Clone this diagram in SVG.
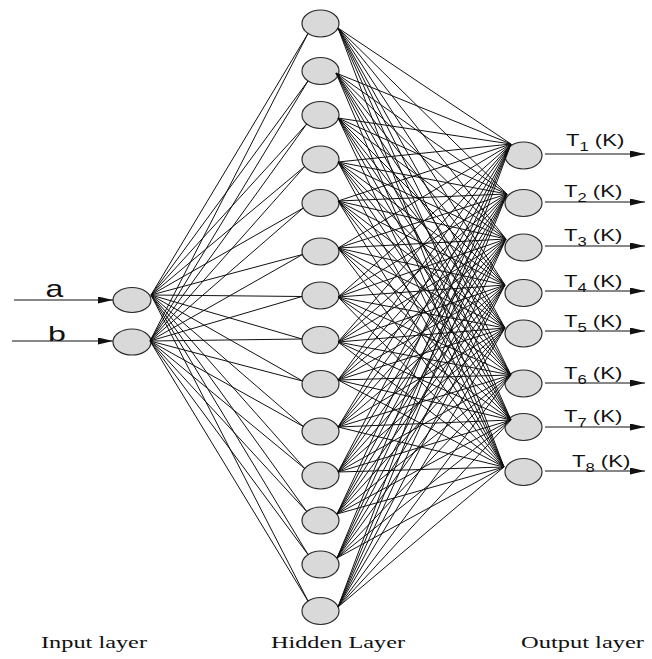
<svg xmlns="http://www.w3.org/2000/svg" width="652" height="659" viewBox="0 0 652 659">
  <style>
    .node { fill: #d9d9d9; stroke: #2a2a2a; stroke-width: 1.2; }
    .edge { fill: none; stroke: #111; stroke-width: 1; }
    .io { fill: none; stroke: #111; stroke-width: 1.1; }
    .sans { font-family: "Liberation Sans", Arial, sans-serif; fill: #111; }
    .serif { font-family: "Liberation Serif", "Times New Roman", serif; font-size: 17.5px; fill: #111; }
    .lbl { font-size: 16px; }
    .sub { font-size: 12px; }
  </style>
  <defs>
    <marker id="arrow" markerUnits="userSpaceOnUse" markerWidth="16" markerHeight="8" refX="15" refY="3.5" orient="auto">
      <path d="M0,0 L15,3.5 L0,7 Z" fill="#111"/>
    </marker>
  </defs>
  <rect width="652" height="659" fill="#fff"/>

  <!-- input layer -->
  <g id="in-a"><ellipse class="node" cx="132" cy="300" rx="19" ry="12.5"/></g>
  <g id="in-b"><ellipse class="node" cx="132" cy="342" rx="19" ry="13"/></g>

  <!-- hidden layer -->
  <g id="h1"><ellipse class="node" cx="320.5" cy="23.5" rx="18.5" ry="13.5"/></g>
  <g id="h2"><ellipse class="node" cx="320.5" cy="71" rx="18.5" ry="13.5"/></g>
  <g id="h3"><ellipse class="node" cx="320.5" cy="115" rx="18.5" ry="13.5"/></g>
  <g id="h4"><ellipse class="node" cx="320.5" cy="159.5" rx="18.5" ry="13.5"/></g>
  <g id="h5"><ellipse class="node" cx="320.5" cy="203" rx="18.5" ry="13.5"/></g>
  <g id="h6"><ellipse class="node" cx="320.5" cy="251.5" rx="18.5" ry="13.5"/></g>
  <g id="h7"><ellipse class="node" cx="320.5" cy="295.5" rx="18.5" ry="13.5"/></g>
  <g id="h8"><ellipse class="node" cx="320.5" cy="340" rx="18.5" ry="13.5"/></g>
  <g id="h9"><ellipse class="node" cx="320.5" cy="384" rx="18.5" ry="13.5"/></g>
  <g id="h10"><ellipse class="node" cx="320.5" cy="431.5" rx="18.5" ry="13.5"/></g>
  <g id="h11"><ellipse class="node" cx="320.5" cy="475.5" rx="18.5" ry="13.5"/></g>
  <g id="h12"><ellipse class="node" cx="320.5" cy="520.5" rx="18.5" ry="13.5"/></g>
  <g id="h13"><ellipse class="node" cx="320.5" cy="564.5" rx="18.5" ry="13.5"/></g>
  <g id="h14"><ellipse class="node" cx="320.5" cy="611" rx="18.5" ry="13.5"/></g>

  <!-- output layer -->
  <g id="o1"><ellipse class="node" cx="523.5" cy="155.5" rx="18.5" ry="13.5"/></g>
  <g id="o2"><ellipse class="node" cx="523.5" cy="203" rx="18.5" ry="13.5"/></g>
  <g id="o3"><ellipse class="node" cx="523.5" cy="247.5" rx="18.5" ry="13.5"/></g>
  <g id="o4"><ellipse class="node" cx="523.5" cy="293" rx="18.5" ry="13.5"/></g>
  <g id="o5"><ellipse class="node" cx="523.5" cy="333.5" rx="18.5" ry="13.5"/></g>
  <g id="o6"><ellipse class="node" cx="523.5" cy="383.5" rx="18.5" ry="13.5"/></g>
  <g id="o7"><ellipse class="node" cx="523.5" cy="427" rx="18.5" ry="13.5"/></g>
  <g id="o8"><ellipse class="node" cx="523.5" cy="472" rx="18.5" ry="13.5"/></g>

  <!-- connectors -->
  <g id="connectors">
    <!-- input to hidden -->
    <path id="e-a" class="edge" d="M151,295 L308,33.5 M151,295 L308,81 M151,295 L306.7,124 M151,295 L304.7,166.5 M151,295 L303.3,208 M151,295 L302.5,254.5 M151,295 L302.1,296.5 M151,295 L302.1,339 M151,295 L302.5,381 M151,295 L303.3,426.5 M151,295 L304.7,468.5 M151,295 L306.7,511.5 M151,295 L308,554.5 M151,295 L308,601"/>
    <path id="e-b" class="edge" d="M150,341 L308,33.5 M150,341 L308,81 M150,341 L306.7,124 M150,341 L304.7,166.5 M150,341 L303.3,208 M150,341 L302.5,254.5 M150,341 L302.1,296.5 M150,341 L302.1,339 M150,341 L302.5,381 M150,341 L303.3,426.5 M150,341 L304.7,468.5 M150,341 L306.7,511.5 M150,341 L308,554.5 M150,341 L308,601"/>
    <!-- hidden to output -->
    <path id="e-h1" class="edge" d="M338,28 L511,144 M338,28 L507,194 M338,28 L506,239 M338,28 L505,285 M338,28 L505,328 M338,28 L511,375 M338,28 L511,420 M338,28 L504,467"/>
    <path id="e-h2" class="edge" d="M336,73 L511,144 M336,73 L507,194 M336,73 L506,239 M336,73 L505,285 M336,73 L505,328 M336,73 L511,375 M336,73 L511,420 M336,73 L504,467"/>
    <path id="e-h3" class="edge" d="M338,118 L511,144 M338,118 L507,194 M338,118 L506,239 M338,118 L505,285 M338,118 L505,328 M338,118 L511,375 M338,118 L511,420 M338,118 L504,467"/>
    <path id="e-h4" class="edge" d="M338,162 L511,144 M338,162 L507,194 M338,162 L506,239 M338,162 L505,285 M338,162 L505,328 M338,162 L511,375 M338,162 L511,420 M338,162 L504,467"/>
    <path id="e-h5" class="edge" d="M338,201 L511,144 M338,201 L507,194 M338,201 L506,239 M338,201 L505,285 M338,201 L505,328 M338,201 L511,375 M338,201 L511,420 M338,201 L504,467"/>
    <path id="e-h6" class="edge" d="M338,248 L511,144 M338,248 L507,194 M338,248 L506,239 M338,248 L505,285 M338,248 L505,328 M338,248 L511,375 M338,248 L511,420 M338,248 L504,467"/>
    <path id="e-h7" class="edge" d="M338,297 L511,144 M338,297 L507,194 M338,297 L506,239 M338,297 L505,285 M338,297 L505,328 M338,297 L511,375 M338,297 L511,420 M338,297 L504,467"/>
    <path id="e-h8" class="edge" d="M338,342 L511,144 M338,342 L507,194 M338,342 L506,239 M338,342 L505,285 M338,342 L505,328 M338,342 L511,375 M338,342 L511,420 M338,342 L504,467"/>
    <path id="e-h9" class="edge" d="M338,380 L511,144 M338,380 L507,194 M338,380 L506,239 M338,380 L505,285 M338,380 L505,328 M338,380 L511,375 M338,380 L511,420 M338,380 L504,467"/>
    <path id="e-h10" class="edge" d="M338,427 L511,144 M338,427 L507,194 M338,427 L506,239 M338,427 L505,285 M338,427 L505,328 M338,427 L511,375 M338,427 L511,420 M338,427 L504,467"/>
    <path id="e-h11" class="edge" d="M338,472 L511,144 M338,472 L507,194 M338,472 L506,239 M338,472 L505,285 M338,472 L505,328 M338,472 L511,375 M338,472 L511,420 M338,472 L504,467"/>
    <path id="e-h12" class="edge" d="M337,514 L511,144 M337,514 L507,194 M337,514 L506,239 M337,514 L505,285 M337,514 L505,328 M337,514 L511,375 M337,514 L511,420 M337,514 L504,467"/>
    <path id="e-h13" class="edge" d="M337,558 L511,144 M337,558 L507,194 M337,558 L506,239 M337,558 L505,285 M337,558 L505,328 M337,558 L511,375 M337,558 L511,420 M337,558 L504,467"/>
    <path id="e-h14" class="edge" d="M338,607 L511,144 M338,607 L507,194 M338,607 L506,239 M338,607 L505,285 M338,607 L505,328 M338,607 L511,375 M338,607 L511,420 M338,607 L504,467"/>

    <!-- input arrows -->
    <line class="io" x1="14" y1="300" x2="113" y2="300" marker-end="url(#arrow)"/>
    <line class="io" x1="12" y1="341" x2="113" y2="341" marker-end="url(#arrow)"/>
    <!-- output arrows -->
    <line class="io" x1="545" y1="154" x2="645" y2="154" marker-end="url(#arrow)"/>
    <line class="io" x1="545" y1="202" x2="645" y2="202" marker-end="url(#arrow)"/>
    <line class="io" x1="545" y1="246" x2="645" y2="246" marker-end="url(#arrow)"/>
    <line class="io" x1="545" y1="291" x2="645" y2="291" marker-end="url(#arrow)"/>
    <line class="io" x1="545" y1="331" x2="645" y2="331" marker-end="url(#arrow)"/>
    <line class="io" x1="545" y1="383" x2="645" y2="383" marker-end="url(#arrow)"/>
    <line class="io" x1="545" y1="427" x2="645" y2="427" marker-end="url(#arrow)"/>
    <line class="io" x1="545" y1="471" x2="645" y2="471" marker-end="url(#arrow)"/>
  </g>

  <!-- input labels -->
  <text class="sans" font-size="24" transform="translate(45.5,297) scale(1.33,1)">a</text>
  <text class="sans" font-size="19.5" transform="translate(48,341) scale(1.65,1)">b</text>

  <!-- output labels -->
  <g class="sans lbl">
    <text transform="translate(566,146) scale(1.38,1)">T<tspan class="sub" dy="4.5">1</tspan><tspan dy="-4.5"> (K)</tspan></text>
    <text transform="translate(564,197) scale(1.38,1)">T<tspan class="sub" dy="4.5">2</tspan><tspan dy="-4.5"> (K)</tspan></text>
    <text transform="translate(564,241) scale(1.38,1)">T<tspan class="sub" dy="4.5">3</tspan><tspan dy="-4.5"> (K)</tspan></text>
    <text transform="translate(564,287) scale(1.38,1)">T<tspan class="sub" dy="4.5">4</tspan><tspan dy="-4.5"> (K)</tspan></text>
    <text transform="translate(564,327) scale(1.38,1)">T<tspan class="sub" dy="4.5">5</tspan><tspan dy="-4.5"> (K)</tspan></text>
    <text transform="translate(564,379) scale(1.38,1)">T<tspan class="sub" dy="4.5">6</tspan><tspan dy="-4.5"> (K)</tspan></text>
    <text transform="translate(564,422) scale(1.38,1)">T<tspan class="sub" dy="4.5">7</tspan><tspan dy="-4.5"> (K)</tspan></text>
    <text transform="translate(572,467) scale(1.38,1)">T<tspan class="sub" dy="4.5">8</tspan><tspan dy="-4.5"> (K)</tspan></text>
  </g>

  <!-- layer captions -->
  <text class="serif" x="41" y="648" textLength="106" lengthAdjust="spacingAndGlyphs">Input layer</text>
  <text class="serif" x="271" y="648" textLength="134" lengthAdjust="spacingAndGlyphs">Hidden Layer</text>
  <text class="serif" x="521" y="648" textLength="123" lengthAdjust="spacingAndGlyphs">Output layer</text>
</svg>
